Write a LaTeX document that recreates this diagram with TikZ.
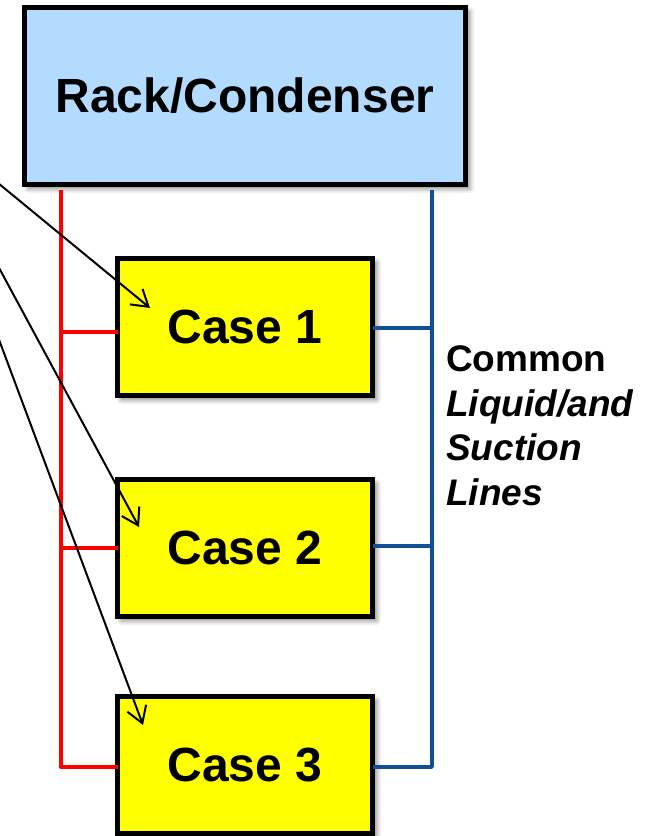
\documentclass[tikz,border=0pt]{standalone}
\usepackage{fontspec}
\setmainfont{Liberation Sans}
\usetikzlibrary{arrows.meta,shadows.blur}
\definecolor{rackblue}{RGB}{179,218,255}
\definecolor{caseyellow}{RGB}{255,255,0}
\definecolor{liquidred}{RGB}{255,0,0}
\definecolor{suctionblue}{RGB}{16,80,148}
\tikzset{
  boxshadow/.style={blur shadow={shadow xshift=4pt, shadow yshift=-4pt, shadow blur radius=5pt, shadow blur steps=6, shadow opacity=50}},
  rackbox/.style={draw=black, line width=5pt, fill=rackblue, minimum width=441pt, minimum height=177pt, inner sep=0pt, outer sep=0pt, boxshadow, font=\fontsize{48}{56}\selectfont\bfseries},
  casebox/.style={draw=black, line width=5pt, fill=caseyellow, minimum width=255pt, minimum height=137pt, inner sep=0pt, outer sep=0pt, boxshadow, font=\fontsize{48}{56}\selectfont\bfseries},
  redline/.style={liquidred, line width=4.5pt},
  blueline/.style={suctionblue, line width=3.5pt},
  pointer/.style={black, line width=2pt, -{Straight Barb[length=16pt,width=20pt,line width=2pt]}},
  label/.style={font=\fontsize{37}{44.5}\selectfont\bfseries, align=left, inner sep=0pt, anchor=base west}
}
\begin{document}
\begin{tikzpicture}[x=1pt,y=-1pt]
\useasboundingbox (0,0) rectangle (648,836);
\node[rackbox] (rack) at (245,96) {Rack/Condenser};
\node[casebox] (case1) at (245,327) {Case 1};
\node[casebox] (case2) at (245,548) {Case 2};
\node[casebox] (case3) at (245,765) {Case 3};
% liquid (red) header
\coordinate (rtop) at (61,190);
\coordinate (r1) at (61,332);
\coordinate (r2) at (61,548);
\coordinate (r3) at (61,767);
\draw[redline, line join=round] (rtop) -- (r3) -- (r3 -| case3.west);
\draw[redline] (r1) -- (r1 -| case1.west);
\draw[redline] (r2) -- (r2 -| case2.west);
% suction (blue) header
\coordinate (btop) at (432,190);
\coordinate (b1) at (432,328);
\coordinate (b2) at (432,546);
\coordinate (b3) at (432,767);
\draw[blueline, line join=round] (btop) -- (b3) -- (b3 -| case3.east);
\draw[blueline] (b1) -- (b1 -| case1.east);
\draw[blueline] (b2) -- (b2 -| case2.east);
% label (base anchor = baseline of last line)
\node[label] (lbl) at (446,505) {Common\\\textit{Liquid/and}\\\textit{Suction}\\\textit{Lines}};
% pointers
\coordinate (p1) at (-2,183);
\coordinate (p2) at (-2,266);
\coordinate (p3) at (-2,337);
\coordinate (t1) at (150,308);
\coordinate (t2) at (139,527);
\coordinate (t3) at (143,725);
\draw[pointer] (p1) -- (t1);
\draw[pointer] (p2) -- (t2);
\draw[pointer] (p3) -- (t3);
\end{tikzpicture}
\end{document}
